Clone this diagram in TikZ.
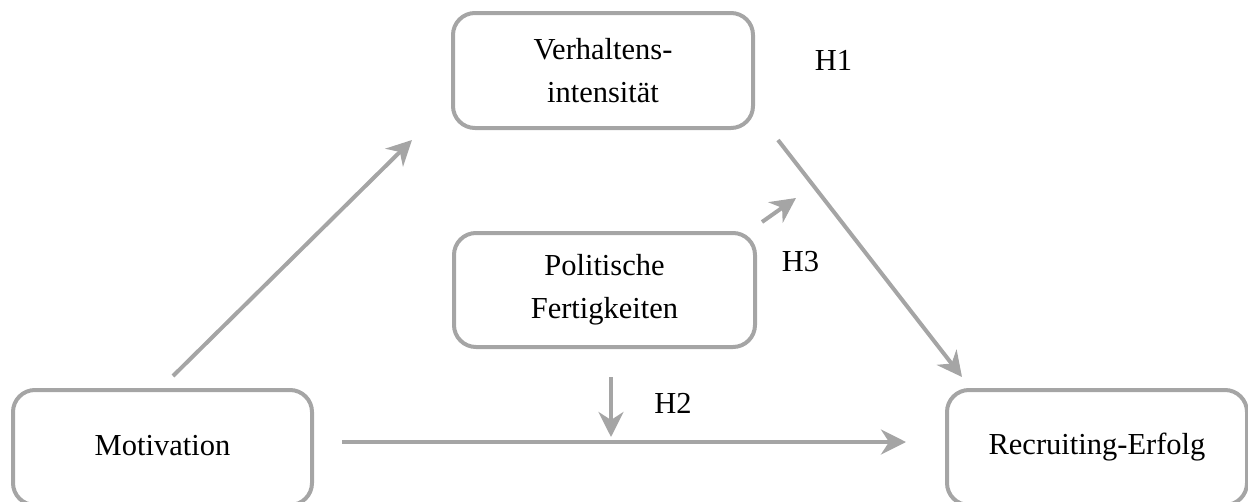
\documentclass[tikz,border=0pt]{standalone}
\usepackage{fontspec}
\setmainfont{Liberation Serif}
\usetikzlibrary{arrows.meta}
\definecolor{linegray}{HTML}{A5A5A5}
\tikzset{
  box/.style={draw=linegray, line width=4pt, rounded corners=22pt, align=center,
    font=\fontsize{30.5}{43}\selectfont, inner sep=0pt},
  conn/.style={draw=linegray, line width=4pt, -{Stealth[length=25pt,width=25pt,inset=8pt]}},
  lab/.style={anchor=base, font=\fontsize{30.5}{36}\selectfont, inner sep=0pt}
}
\begin{document}
\begin{tikzpicture}[x=1pt,y=-1pt]
\useasboundingbox (0,0) rectangle (1248,501);
\node[box, minimum width=300pt, minimum height=115pt] (verh) at (603,70.5) {Verhaltens-\\intensität};
\node[box, minimum width=301pt, minimum height=114pt] (pol) at (604.5,290) {Politische\\Fertigkeiten};
\node[box, minimum width=299pt, minimum height=115pt] (mot) at (162.5,447.5) {\raisebox{5pt}{Motivation}};
\node[box, minimum width=300pt, minimum height=115pt] (rec) at (1097,447.5) {Recruiting-Erfolg};

\coordinate (m1) at (173,376);
\coordinate (v1) at (412,140);
\coordinate (v2) at (778,140);
\coordinate (r1) at (962,377);
\coordinate (h3a) at (762,222);
\coordinate (h3b) at (796,198);
\coordinate (h2a) at (611,377);
\coordinate (h2b) at (611,437);
\coordinate (m2) at (342,442);
\coordinate (r2) at (906,442);

\draw[conn] (m1) -- (v1);
\draw[conn] (v2) -- (r1);
\draw[conn] (h3a) -- (h3b);
\draw[conn] (h2a) -- (h2b);
\draw[conn] (m2) -- (r2);

\node[lab] (h1) at (833.5,70) {H1};
\node[lab] (h3) at (800.5,271) {H3};
\node[lab] (h2) at (673,413) {H2};
\end{tikzpicture}
\end{document}
